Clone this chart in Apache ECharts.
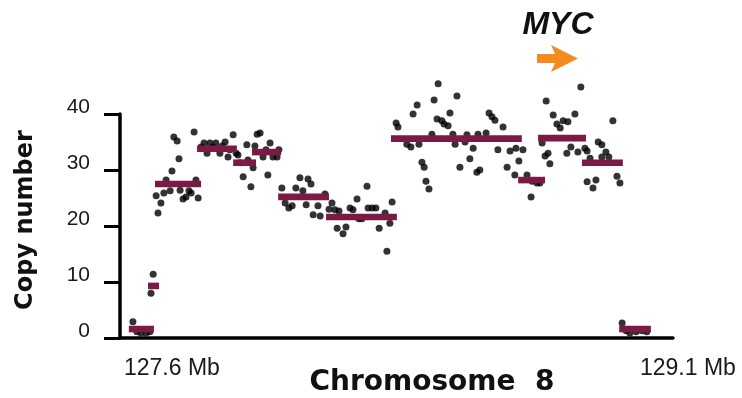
<!DOCTYPE html>
<html><head><meta charset="utf-8">
<script src="https://cdn.jsdelivr.net/npm/echarts@6/dist/echarts.min.js"></script>
<style>html,body{margin:0;padding:0;background:#fff}#c{width:742px;height:398px}</style>
</head><body><div id="c"></div>
<script>
// probe positions in kb from 127.6 Mb
const probePos = [35,46,57,71,81,84,90,98,103,111,119,125,136,141,146,155,160,163,171,179,187,193,201,206,212,
220,228,236,244,252,260,271,277,285,293,298,307,315,320,326,334,344,347,355,361,366,372,380,388,396,401,407,415,426,431,
439,448,458,467,477,488,496,505,510,518,524,537,543,556,
567,575,583,589,594,605,613,624,632,643,648,656,670,673,684,694,703,719,724,732,738,
749,754,778,789,795,806,811,819,825,830,838,846,852,863,860,873,879,890,895,903,909,914,922,936,941,949,958,968,976,971,993,1001,1009,1017,1025,1039,1050,1058,1071,1074,1082,1093,
1104,1115,1118,1131,1139,
1145,1153,1156,1161,1166,1175,1185,1194,1202,1215,1212,1223,1234,1242,1250,1261,1267,1267,
1275,1283,1291,1297,1307,1307,1318,1326,1337,1348,1356,
1362,1373,1383,1400,1416,1429];
const probeCopy = [2.9,1.1,0.9,0.9,1.1,8.0,11.4,25.4,22.3,24.1,25.9,28.2,26.3,29.8,35.9,35.2,32.0,26.4,24.8,25.2,26.3,25.9,36.8,28.2,25.0,
34.1,34.8,33.0,34.8,34.1,34.8,33.0,34.3,35.0,32.3,33.6,36.3,33.0,32.7,31.3,28.8,34.5,31.8,27.0,30.4,34.3,36.4,36.6,32.3,33.6,29.1,34.8,32.3,32.3,33.6,
26.8,24.1,23.2,23.6,26.8,28.6,26.3,23.8,28.4,27.5,22.0,23.6,21.8,25.7,
23.0,24.1,22.9,19.6,22.7,18.6,19.8,23.2,22.9,24.8,21.3,21.3,27.1,23.2,23.2,23.2,19.6,22.3,15.5,20.5,24.3,
38.4,37.7,34.6,34.1,40.0,41.6,34.6,31.4,30.5,28.0,26.6,36.4,42.5,45.4,39.1,38.8,38.2,37.9,40.2,36.4,34.6,43.2,30.5,35.0,36.3,32.0,33.9,29.6,30.0,36.4,36.6,40.2,39.5,38.9,33.6,37.7,30.5,33.4,29.1,33.9,31.6,33.6,
29.1,25.2,28.0,27.7,27.7,
34.8,32.5,42.3,33.0,31.1,39.8,38.2,37.5,38.8,38.6,33.0,34.1,40.0,33.2,44.8,33.9,33.4,27.9,
32.1,26.8,28.2,35.0,34.5,32.3,33.2,32.3,38.8,28.9,27.7,
2.7,1.3,0.9,1.1,1.3,1.1];
// segmented copy-number calls
const segStart = [24,76,95,209,307,358,429,559,735,1080,1134,1253,1354];
const segEnd   = [92,106,220,317,369,437,567,751,1090,1153,1264,1364,1440];
const segCopy  = [1.6,9.3,27.5,33.8,31.3,33.2,25.2,21.6,35.6,28.2,35.7,31.3,1.6];
const yTicks = [0,10,20,30,40];
const xEndLabels = ['127.6 Mb','129.1 Mb'];
const yTitle = 'Copy number';
const xTitle = 'Chromosome  8';
const geneLabel = 'MYC';

const chart = echarts.init(document.getElementById('c'), null, {renderer:'canvas'});
chart.setOption({
  animation:false,
  grid:{left:120,right:69,top:114,bottom:60},
  xAxis:{type:'value',min:0,max:1500,offset:3,
    axisLine:{lineStyle:{color:'#000',width:3.5}},
    axisTick:{show:false},axisLabel:{show:false},splitLine:{show:false}},
  yAxis:{type:'value',min:yTicks[0],max:yTicks[yTicks.length-1],interval:10,offset:7,
    axisLine:{show:true,lineStyle:{color:'#000',width:3.5}},
    axisTick:{show:true,length:16,lineStyle:{width:3,color:'#000'}},
    axisLabel:{margin:23,fontSize:21,fontFamily:'Liberation Sans',color:'#1a1a1a',verticalAlign:'bottom',lineHeight:14},
    splitLine:{show:false}},
  series:[
    {type:'scatter',data:probePos.map((x,i)=>[x,probeCopy[i]]),symbolSize:7,
      itemStyle:{color:'#000'},clip:false,z:2},
    {type:'custom',data:segStart.map((s,i)=>[s,segEnd[i],segCopy[i]]),clip:false,z:3,
      renderItem:(params,api)=>{
        const a=api.coord([api.value(0),api.value(2)]);
        const b=api.coord([api.value(1),api.value(2)]);
        return {type:'rect',shape:{x:a[0],y:a[1]-3.3,width:b[0]-a[0],height:6.6},style:{fill:'#7b1a45'}};
      }}
  ],
  graphic:[
    {type:'text',x:26,y:220,rotation:Math.PI/2,style:{text:yTitle,font:'bold 24px "DejaVu Sans"',fill:'#111',align:'center',verticalAlign:'middle'}},
    {type:'text',x:432,y:383,style:{text:xTitle,font:'bold 28px "DejaVu Sans"',fill:'#111',align:'center',verticalAlign:'middle'}},
    {type:'text',x:124,y:369,style:{text:xEndLabels[0],font:'23px "Liberation Sans"',fill:'#1a1a1a',align:'left',verticalAlign:'middle'}},
    {type:'text',x:640,y:369,style:{text:xEndLabels[1],font:'23px "Liberation Sans"',fill:'#1a1a1a',align:'left',verticalAlign:'middle'}},
    {type:'text',x:558,y:25,style:{text:geneLabel,font:'italic bold 32px "Liberation Sans"',fill:'#111',align:'center',verticalAlign:'middle'}},
    {type:'polygon',shape:{points:[[537,54],[555,54],[551,45],[578,58.5],[551,72],[555,63],[537,63]]},style:{fill:'#f58a1f'}}
  ]
});
</script></body></html>
